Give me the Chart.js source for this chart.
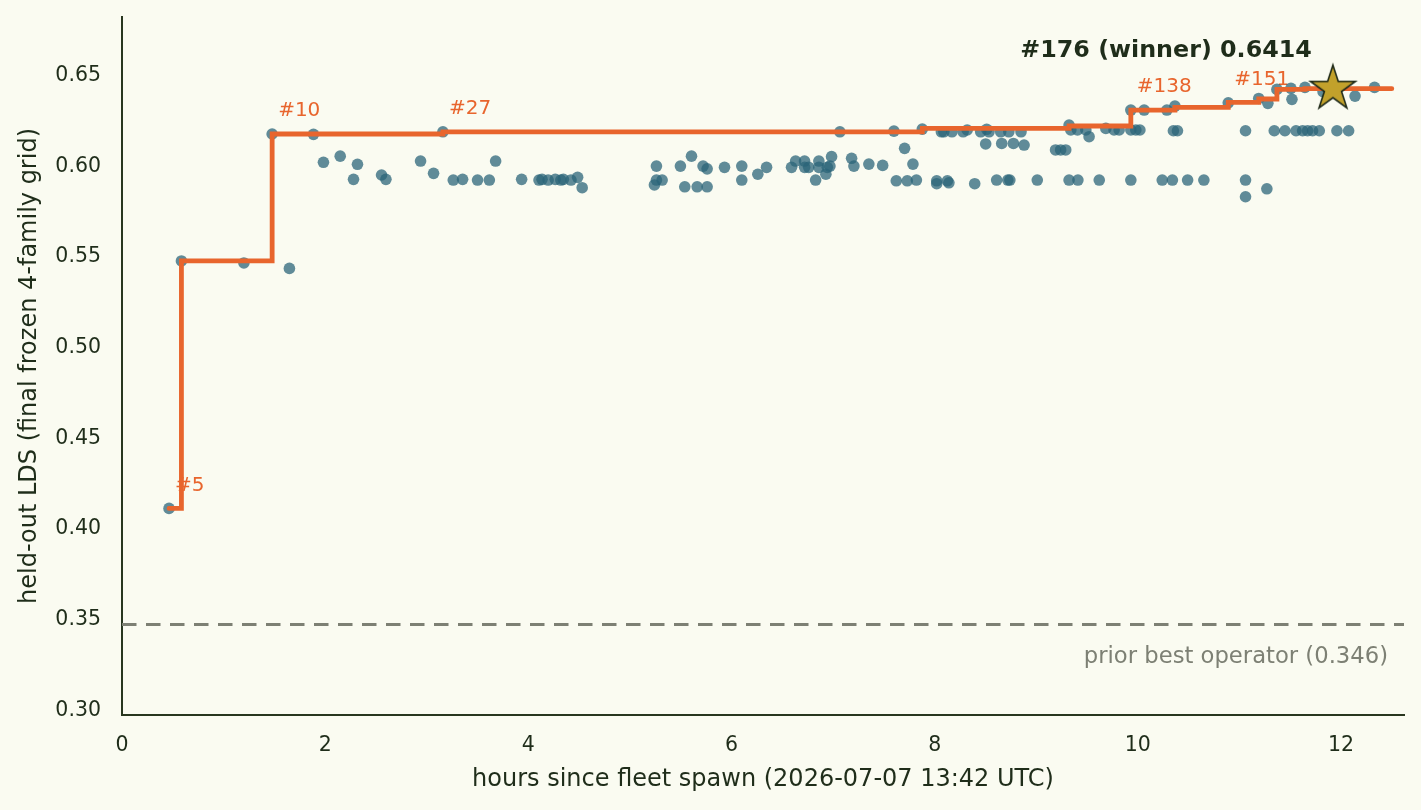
<!DOCTYPE html>
<html><head><meta charset="utf-8">
<script src="https://cdn.jsdelivr.net/npm/chart.js@4.4.1/dist/chart.umd.min.js"></script>
<style>html,body{margin:0;padding:0;background:#fafbf1;}canvas{display:block;}</style>
</head><body>
<canvas id="c" width="1421" height="810"></canvas>
<script>
// ---- data (hours since spawn, held-out LDS) ----
const runX = [
  0.463, 0.585, 1.20, 1.648, 1.478, 1.885, 1.983, 2.148, 2.318, 2.279, 2.555, 2.598, 2.939, 3.067, 3.159,
  3.261, 3.353, 3.50, 3.616, 3.678, 3.934, 4.105, 4.135, 4.195, 4.265, 4.32, 4.345, 4.42, 4.485, 4.53,
  5.261, 5.261, 5.317, 5.241, 5.497, 5.606, 5.72, 5.76, 5.54, 5.662, 5.76, 5.931, 6.101, 6.101, 6.259,
  6.345, 6.591, 6.631, 6.719, 6.72, 6.76, 6.828, 6.86, 6.86, 6.943, 6.969, 6.929, 6.985, 7.067, 7.182,
  7.205, 7.352, 7.488, 7.599, 7.622, 7.704, 7.786, 7.73, 7.82, 7.878, 8.02, 8.02, 8.125, 8.14, 8.066,
  8.09, 8.17, 8.28, 8.32, 8.394, 8.453, 8.512, 8.535, 8.502, 8.61, 8.72, 8.74, 8.66, 8.775, 8.65,
  8.73, 8.85, 8.88, 9.01, 9.19, 9.24, 9.29, 9.323, 9.34, 9.406, 9.52, 9.488, 9.323, 9.41, 9.62,
  9.685, 9.766, 9.816, 9.931, 10.062, 9.931, 9.98, 10.02, 9.931, 10.24, 10.34, 10.286, 10.365, 10.35, 10.39,
  10.49, 10.65, 10.89, 11.06, 11.06, 11.06, 11.19, 11.28, 11.27, 11.343, 11.448, 11.557, 11.622, 11.671, 11.72,
  11.786, 11.96, 12.075, 11.369, 11.507, 11.517, 11.645, 11.823, 12.138, 12.33
];
const runY = [
  0.410, 0.5464, 0.5453, 0.5423, 0.6164, 0.6162, 0.6008, 0.6042, 0.5997, 0.5914, 0.5938, 0.5914, 0.6015, 0.5947, 0.6176,
  0.591, 0.5914, 0.591, 0.591, 0.6015, 0.5914, 0.591, 0.5914, 0.591, 0.5914, 0.591, 0.5914, 0.591, 0.5925, 0.5868,
  0.5987, 0.591, 0.591, 0.5883, 0.5987, 0.6042, 0.5987, 0.5972, 0.5873, 0.5873, 0.5873, 0.598, 0.5987, 0.591, 0.5942,
  0.598, 0.598, 0.6015, 0.6015, 0.598, 0.598, 0.591, 0.6015, 0.598, 0.598, 0.5987, 0.5942, 0.6039, 0.6176, 0.603,
  0.5987, 0.5998, 0.5991, 0.618, 0.5906, 0.6085, 0.5998, 0.5906, 0.591, 0.6191, 0.5906, 0.589, 0.5906, 0.5895, 0.6176,
  0.6176, 0.6176, 0.6176, 0.6186, 0.589, 0.6176, 0.619, 0.6176, 0.6109, 0.591, 0.591, 0.591, 0.6112, 0.6112, 0.6176,
  0.6176, 0.6176, 0.6103, 0.591, 0.6076, 0.6076, 0.6076, 0.6213, 0.6186, 0.6186, 0.6149, 0.6186, 0.591, 0.591, 0.591,
  0.6195, 0.6186, 0.6186, 0.6296, 0.6296, 0.6186, 0.6186, 0.6186, 0.591, 0.591, 0.591, 0.6296, 0.6318, 0.6182, 0.6182,
  0.591, 0.591, 0.6336, 0.6182, 0.591, 0.5818, 0.636, 0.6333, 0.5862, 0.6182, 0.6182, 0.6182, 0.6182, 0.6182, 0.6182,
  0.6182, 0.6182, 0.6182, 0.641, 0.6416, 0.6355, 0.6421, 0.6397, 0.6373, 0.6421
];
// best-so-far staircase
const bestX = [0.463, 0.585, 1.478, 3.159, 7.878, 9.323, 9.931, 10.365, 10.89, 11.19, 11.369, 11.645, 12.50];
const bestY = [0.410, 0.5464, 0.6164, 0.6176, 0.6195, 0.6208, 0.6296, 0.6311, 0.6338, 0.6357, 0.6410, 0.6414, 0.6414];
// milestone labels
const milestoneText = ['#5', '#10', '#27', '#138', '#151'];
const milestoneX = [0.463, 1.478, 3.159, 9.931, 10.89];
const milestoneY = [0.410, 0.6164, 0.6176, 0.6296, 0.6336];
// winner
const winnerX = [11.92];
const winnerY = [0.6414];
const winnerText = '#176 (winner) 0.6414';
// prior best baseline
const baselineValue = 0.346;
const baselineText = 'prior best operator (0.346)';
// axes
const xTicks = [0, 2, 4, 6, 8, 10, 12];
const yTicks = [0.30, 0.35, 0.40, 0.45, 0.50, 0.55, 0.60, 0.65];
const xRange = [0, 12.62];
const yRange = [0.2961, 0.6809];
const xTitle = 'hours since fleet spawn (2026-07-07 13:42 UTC)';
const yTitle = 'held-out LDS (final frozen 4-family grid)';

// ---- styles ----
const FONT = "'DejaVu Sans', 'Liberation Sans', sans-serif";
const BG = '#fafbf1';
const TEXT = '#1f2d1a';
const AXIS = '#28361f';
const ORANGE = '#e8652d';
const POINT = 'rgba(42,100,120,0.74)';
const GREY = '#7d8074';

function makeStar(R, fill, stroke) {
  const s = Math.ceil(2 * R + 6);
  const c = document.createElement('canvas');
  c.width = s; c.height = s;
  const g = c.getContext('2d');
  const cx = s / 2, cy = s / 2, r = R * 0.381966;
  g.beginPath();
  for (let i = 0; i < 10; i++) {
    const a = -Math.PI / 2 + i * Math.PI / 5;
    const rr = i % 2 ? r : R;
    g.lineTo(cx + rr * Math.cos(a), cy + rr * Math.sin(a));
  }
  g.closePath();
  g.fillStyle = fill; g.fill();
  g.lineWidth = 1.6; g.strokeStyle = stroke; g.lineJoin = 'miter'; g.stroke();
  return c;
}
const starImg = makeStar(23.6, '#c2a12b', '#1f2a18');

const overlay = {
  id: 'overlay',
  beforeDraw(chart) {
    const {ctx, width, height} = chart;
    ctx.save(); ctx.fillStyle = BG; ctx.fillRect(0, 0, width, height); ctx.restore();
  },
  beforeDatasetsDraw(chart) {
    const {ctx, scales: {x, y}} = chart;
    ctx.save();
    ctx.font = `20px ${FONT}`;
    ctx.fillStyle = ORANGE;
    ctx.textAlign = 'left';
    ctx.textBaseline = 'alphabetic';
    milestoneText.forEach((t, i) => {
      ctx.fillText(t, x.getPixelForValue(milestoneX[i]) + 6, y.getPixelForValue(milestoneY[i]) - 17.7);
    });
    ctx.font = `22.7px ${FONT}`;
    ctx.fillStyle = GREY;
    ctx.textAlign = 'right';
    ctx.fillText(baselineText, chart.chartArea.right - 16, y.getPixelForValue(baselineValue) + 39);
    ctx.restore();
  },
  afterDatasetsDraw(chart) {
    const {ctx, scales: {x, y}} = chart;
    ctx.save();
    ctx.font = `bold 23.8px ${FONT}`;
    ctx.fillStyle = TEXT;
    ctx.textAlign = 'right';
    ctx.textBaseline = 'alphabetic';
    ctx.fillText(winnerText, x.getPixelForValue(winnerX[0]) - 21, y.getPixelForValue(winnerY[0]) - 31.3);
    ctx.restore();
  }
};

const pts = (xs, ys) => xs.map((v, i) => ({x: v, y: ys[i]}));

new Chart(document.getElementById('c'), {
  type: 'scatter',
  data: {
    datasets: [
      {
        label: 'winner', data: pts(winnerX, winnerY), order: 0,
        pointStyle: starImg, pointRadius: 24, pointHoverRadius: 24
      },
      {
        label: 'best so far', data: pts(bestX, bestY), order: 1,
        showLine: true, stepped: 'before', borderColor: ORANGE, borderWidth: 4.8,
        borderCapStyle: 'round', borderJoinStyle: 'miter', pointRadius: 0, fill: false
      },
      {
        label: 'runs', data: pts(runX, runY), order: 2,
        backgroundColor: POINT, borderWidth: 0, pointRadius: 5.8, pointHoverRadius: 5.8
      },
      {
        label: 'prior best', data: pts(xRange, [baselineValue, baselineValue]), order: 3,
        showLine: true, borderColor: GREY, borderWidth: 3, borderDash: [14.5, 9.5],
        pointRadius: 0, fill: false
      }
    ]
  },
  options: {
    responsive: false,
    devicePixelRatio: 1,
    animation: false,
    events: [],
    layout: {autoPadding: false, padding: {top: 17, right: 17, left: 0, bottom: 0}},
    plugins: {legend: {display: false}, tooltip: {enabled: false}},
    scales: {
      x: {
        type: 'linear', min: xRange[0], max: xRange[1],
        afterBuildTicks: s => { s.ticks = xTicks.map(v => ({value: v})); },
        afterFit: s => { s.height = 95; s.paddingLeft = 0; s.paddingRight = 0; },
        grid: {display: false, drawTicks: false},
        border: {display: true, color: AXIS, width: 2},
        ticks: {font: {family: FONT, size: 20.5}, color: TEXT, padding: 18.5, maxRotation: 0, autoSkip: false,
          callback: v => String(v)},
        title: {display: true, text: xTitle, font: {family: FONT, size: 24}, color: TEXT, padding: {top: 0, bottom: 15.6}}
      },
      y: {
        type: 'linear', min: yRange[0], max: yRange[1],
        afterBuildTicks: s => { s.ticks = yTicks.map(v => ({value: v})); },
        afterFit: s => { s.width = 122; s.paddingTop = 0; s.paddingBottom = 0; },
        grid: {display: false, drawTicks: false},
        border: {display: true, color: AXIS, width: 2},
        ticks: {font: {family: FONT, size: 20.5}, color: TEXT, padding: 21, labelOffset: 2.5, autoSkip: false,
          callback: v => Number(v).toFixed(2)},
        title: {display: true, text: yTitle, font: {family: FONT, size: 24}, color: TEXT, padding: {top: 15.2, bottom: 0}}
      }
    }
  },
  plugins: [overlay]
});
</script>
</body></html>
